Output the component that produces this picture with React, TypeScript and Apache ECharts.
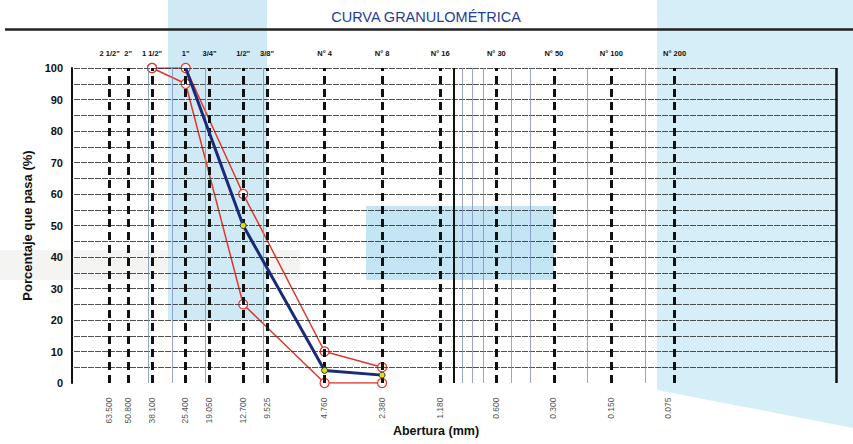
import React, { useEffect, useRef } from "react";
import * as echarts from "echarts";

const sieveNames = ['2 1/2"', '2"', '1 1/2"', '1"', '3/4"', '1/2"', '3/8"', "N° 4", "N° 8", "N° 16", "N° 30", "N° 50", "N° 100", "N° 200"];
const sieveOpenings = [63.5, 50.8, 38.1, 25.4, 19.05, 12.7, 9.525, 4.76, 2.38, 1.18, 0.6, 0.3, 0.15, 0.075];
const openingLabels = ["63.500", "50.800", "38.100", "25.400", "19.050", "12.700", "9.525", "4.760", "2.380", "1.180", "0.600", "0.300", "0.150", "0.075"];
const minorOpenings = [40, 30, 20, 10, 0.9, 0.8, 0.7, 0.5, 0.4, 0.2, 0.1];
const yGridValues = [5, 10, 15, 20, 25, 30, 35, 40, 45, 50, 55, 60, 65, 70, 75, 80, 85, 90, 95, 100];

const sampleOpenings = [25.4, 12.7, 4.76, 2.38];
const samplePassing = [100, 50, 4, 2.5];
const limitOpenings = [38.1, 25.4, 12.7, 4.76, 2.38];
const upperLimit = [100, 100, 60, 10, 5];
const lowerLimit = [100, 95, 25, 0, 0];

const FONT = "'Liberation Sans', Arial, sans-serif";
const NARROW = "'Liberation Sans Narrow', 'Liberation Sans', Arial, sans-serif";
const RED = "#e2362c";
const NAVY = "#1a2a78";

export default function App() {
  const ref = useRef<HTMLDivElement>(null);
  useEffect(() => {
    if (!ref.current) return;
    const chart = echarts.init(ref.current, null, { renderer: "svg" });
    const redSymbol = {
      symbol: "circle",
      symbolSize: 9,
      itemStyle: { color: "#fff", borderColor: RED, borderWidth: 1.2 },
    };
    chart.setOption({
      animation: false,
      backgroundColor: "#ffffff",
      textStyle: { fontFamily: FONT },
      grid: { left: 72, right: 17, top: 68, bottom: 61, containLabel: false },
      graphic: [
        { type: "rect", z: -10, shape: { x: 168, y: 0, width: 99, height: 320 }, style: { fill: "#cfe9f5" }, silent: true },
        { type: "rect", z: -10, shape: { x: 366, y: 206, width: 188, height: 74 }, style: { fill: "#c4e5f3" }, silent: true },
        { type: "rect", z: -11, shape: { x: 0, y: 250, width: 300, height: 30 }, style: { fill: "#f4f4f2" }, silent: true },
        { type: "polygon", z: -10, shape: { points: [[657, 0], [853, 0], [853, 428], [657, 390]] }, style: { fill: "#d6eef8" }, silent: true },
        {
          type: "text",
          x: 426, y: 17,
          style: { text: "CURVA GRANULOMÉTRICA", fill: "#1f3c98", font: `14.5px ${FONT}`, textAlign: "center", textVerticalAlign: "middle" },
        },
        {
          type: "line",
          shape: { x1: 5, y1: 29.5, x2: 853, y2: 29.5 },
          style: { stroke: "#222", lineWidth: 2.5 },
        },
        {
          type: "text",
          x: 436, y: 431,
          style: { text: "Abertura (mm)", fill: "#111", font: `bold 12.5px ${FONT}`, textAlign: "center", textVerticalAlign: "middle" },
        },
      ],
      xAxis: {
        type: "log",
        logBase: 10,
        min: 0.01,
        max: 100,
        inverse: true,
        axisLine: { show: false },
        axisTick: { show: false },
        axisLabel: { show: false },
        splitLine: { show: false },
        minorSplitLine: { show: false },
      },
      yAxis: {
        type: "value",
        min: 0,
        max: 100,
        interval: 10,
        name: "Porcentaje que pasa (%)",
        nameLocation: "middle",
        nameGap: 35,
        nameRotate: 90,
        nameTextStyle: { fontFamily: FONT, fontWeight: "bold", fontSize: 13, color: "#111" },
        axisLine: { show: true, lineStyle: { color: "#111", width: 2 } },
        axisTick: { show: false },
        axisLabel: { fontFamily: NARROW, fontWeight: "bold", fontSize: 11, color: "#111", margin: 9 },
        splitLine: { show: false },
      },
      series: [
        {
          type: "line",
          name: "grid",
          data: [],
          silent: true,
          z: 1,
          markLine: {
            silent: true,
            symbol: ["none", "none"],
            label: { show: false },
            data: [
              ...yGridValues.map((v) => ({ yAxis: v, lineStyle: { color: "#333", width: 1, type: [6, 1], opacity: 0.85 } })),
              ...minorOpenings.map((v) => ({ xAxis: v, lineStyle: { color: "#7d90c0", width: 1, type: "solid", opacity: 0.8 } })),
              { xAxis: 1, lineStyle: { color: "#111", width: 2, type: "solid" } },
              { xAxis: 0.01, lineStyle: { color: "#111", width: 2.5, type: "solid" } },
            ],
          },
        },
        {
          type: "line",
          name: "sieves",
          data: [],
          silent: true,
          z: 2,
          markLine: {
            silent: true,
            symbol: ["none", "none"],
            lineStyle: { color: "#111", width: 3, type: [8, 5] },
            label: {
              show: true,
              position: "end",
              distance: 11,
              formatter: "{b}",
              fontFamily: NARROW,
              fontWeight: "bold",
              fontSize: 7.5,
              color: "#111",
            },
            data: sieveOpenings.map((v, i) => ({ xAxis: v, name: sieveNames[i] })),
          },
        },
        {
          type: "scatter",
          name: "openings",
          silent: true,
          symbolSize: 1,
          itemStyle: { color: "rgba(0,0,0,0)" },
          label: {
            show: true,
            formatter: "{b}",
            position: [0, 15],
            rotate: 90,
            align: "right",
            verticalAlign: "middle",
            fontFamily: FONT,
            fontSize: 8.5,
            color: "#222",
          },
          data: sieveOpenings.map((v, i) => ({ value: [v, 0], name: openingLabels[i] })),
        },
        {
          type: "line",
          name: "Límite superior",
          data: limitOpenings.map((x, i) => [x, upperLimit[i]]),
          lineStyle: { color: RED, width: 1.5 },
          ...redSymbol,
          z: 4,
        },
        {
          type: "line",
          name: "Límite inferior",
          data: limitOpenings.map((x, i) => [x, lowerLimit[i]]),
          lineStyle: { color: RED, width: 1.5 },
          ...redSymbol,
          z: 4,
        },
        {
          type: "line",
          name: "Muestra",
          data: sampleOpenings.map((x, i) =>
            i === 0 ? { value: [x, samplePassing[i]], symbol: "none" } : [x, samplePassing[i]]
          ),
          lineStyle: { color: NAVY, width: 3 },
          symbol: "circle",
          symbolSize: 6,
          itemStyle: { color: "#e3dc1c", borderColor: "#2a3a20", borderWidth: 1 },
          z: 5,
        },
      ],
    });
    return () => chart.dispose();
  }, []);
  return <div ref={ref} style={{ position: "absolute", left: 0, top: 0, width: 853, height: 444 }} />;
}
